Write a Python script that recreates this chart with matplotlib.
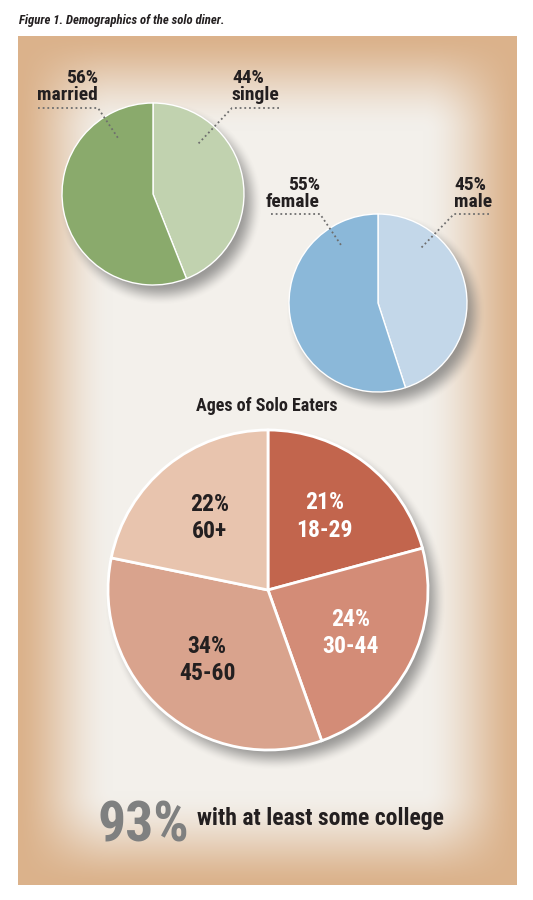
import numpy as np
import matplotlib
matplotlib.use("Agg")
import matplotlib.pyplot as plt
from matplotlib import font_manager as fm

# ---------------- data ----------------
marital_labels = ["single", "married"]
marital_values = [44, 56]
gender_labels = ["male", "female"]
gender_values = [45, 55]
age_groups = ["18-29", "30-44", "45-60", "60+"]
age_values = [21, 24, 34, 22]
college_pct = 93
college_text = "with at least some college"
title_text = "Figure 1. Demographics of the solo diner."
age_title = "Ages of Solo Eaters"

# ---------------- style ----------------
marital_colors = ["#C1D2AF", "#8AAA6C"]
gender_colors = ["#C3D7E9", "#8BB8D9"]
age_colors = ["#C2654D", "#D38C77", "#D9A38D", "#E8C4AE"]
age_text_colors = ["white", "white", "#231F20", "#231F20"]
TXT = "#231F20"

avail = {f.name for f in fm.fontManager.ttflist}
cands = ["Liberation Sans Narrow", "DejaVu Sans Condensed", "Roboto Condensed",
         "Open Sans Condensed", "Noto Sans", "DejaVu Sans"]
FONT = [c for c in cands if c in avail] + ["DejaVu Sans"]
plt.rcParams["font.family"] = FONT

W, H = 533, 900
fig = plt.figure(figsize=(W / 100, H / 100), dpi=100)
ax = fig.add_axes([0, 0, 1, 1])


def fy(y):
    return H - y


def smooth(a):
    a = np.clip(a, 0, 1)
    return a * a * (3 - 2 * a)


# ---------------- background panel with vignette ----------------
px0, px1, py0, py1 = 18, 517, 36, 885
yy, xx = np.mgrid[py0:py1, px0:px1].astype(float)
dx = np.minimum(xx - px0, px1 - xx)
dy = np.minimum(yy - py0, py1 - yy)
t = smooth(dx / 95.0) * smooth(dy / 95.0)
t = t ** 0.8
edge = np.array([0xDB, 0xB2, 0x8B]) / 255
center = np.array([0xF3, 0xF0, 0xEB]) / 255
bg = edge[None, None, :] + (center - edge)[None, None, :] * t[..., None]
ax.imshow(bg, extent=(px0, px1, fy(py1), fy(py0)), origin="upper",
          zorder=0, interpolation="bilinear")

# ---------------- shadows ----------------
gy, gx = np.mgrid[0:H, 0:W].astype(float)
shadow_alpha = np.zeros((H, W))
for (cx, cy, r) in [(153, 194, 91), (378, 303, 89), (268, 590, 160)]:
    dist = np.hypot(gx - cx - 7, gy - cy - 9)
    a = smooth((r + 11 - dist) / 22.0)
    shadow_alpha = np.maximum(shadow_alpha, 0.6 * a)
sh = np.zeros((H, W, 4))
sh[..., :3] = 0.38
sh[..., 3] = shadow_alpha
ax.imshow(sh, extent=(0, W, 0, H), origin="upper", zorder=1,
          interpolation="bilinear")

# ---------------- pies ----------------
ax.pie(marital_values, colors=marital_colors, startangle=90, counterclock=False,
       center=(153, fy(194)), radius=91, frame=True,
       wedgeprops=dict(edgecolor="white", linewidth=1.0, zorder=2))
ax.pie(gender_values, colors=gender_colors, startangle=90, counterclock=False,
       center=(378, fy(303)), radius=89, frame=True,
       wedgeprops=dict(edgecolor="white", linewidth=1.0, zorder=2))
age_wedges, _ = ax.pie(age_values, colors=age_colors, startangle=90,
                       counterclock=False, center=(268, fy(590)), radius=160,
                       frame=True,
                       wedgeprops=dict(edgecolor="white", linewidth=2.0, zorder=2))

for w, g, v, tc in zip(age_wedges, age_groups, age_values, age_text_colors):
    ang = np.deg2rad((w.theta1 + w.theta2) / 2)
    x = w.center[0] + 0.58 * w.r * np.cos(ang)
    y = w.center[1] + 0.58 * w.r * np.sin(ang)
    ax.text(x, y, f"{v}%\n{g}", ha="center", va="center", fontsize=17,
            fontweight="bold", color=tc, linespacing=1.25, zorder=5)

# ---------------- outside labels with dotted leaders ----------------
lead = dict(color="#6E6E6E", lw=1.3, linestyle=(0, (1, 1.6)), zorder=4)
lab = dict(fontsize=14, fontweight="bold", color=TXT, linespacing=0.95,
           va="baseline", zorder=5)

ax.text(98, fy(100), f"{marital_values[1]}%\n{marital_labels[1]}", ha="right", **lab)
ax.plot([38, 98, 118], [fy(108), fy(108), fy(138)], **lead)
ax.text(232, fy(100), f"{marital_values[0]}%\n{marital_labels[0]}", ha="left", **lab)
ax.plot([279, 232, 198], [fy(108), fy(108), fy(144)], **lead)

ax.text(320, fy(207), f"{gender_values[1]}%\n{gender_labels[1]}", ha="right", **lab)
ax.plot([271, 320, 341], [fy(214), fy(214), fy(245)], **lead)
ax.text(454, fy(207), f"{gender_values[0]}%\n{gender_labels[0]}", ha="left", **lab)
ax.plot([489, 454, 421], [fy(214), fy(214), fy(248)], **lead)

# ---------------- titles & footer ----------------
fig.text(19 / W, 1 - 24 / H, title_text, fontsize=9.2, fontweight="bold",
         style="italic", color=TXT, ha="left", va="baseline")
ax.text(267, fy(411), age_title, fontsize=13, fontweight="bold", color=TXT,
        ha="center", va="baseline", zorder=5)
ax.text(98, fy(841), f"{college_pct}%", fontsize=40, fontweight="bold",
        color="#7F8080", ha="left", va="baseline", zorder=5)
ax.text(197, fy(825), college_text, fontsize=17, fontweight="bold", color=TXT,
        ha="left", va="baseline", zorder=5)

ax.set_xlim(0, W)
ax.set_ylim(0, H)
ax.set_aspect("auto")
ax.axis("off")
fig.savefig("out.png", dpi=100, facecolor="white")
